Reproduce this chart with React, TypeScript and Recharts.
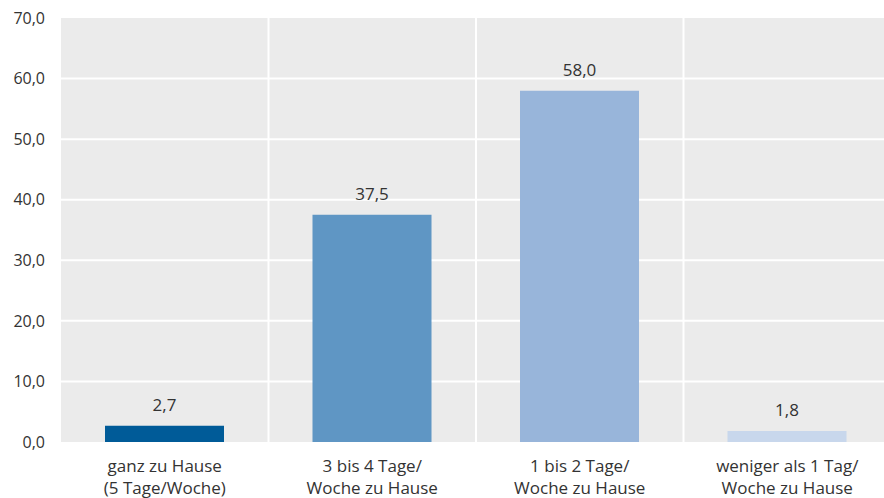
import { Bar, BarChart, CartesianGrid, Cell, LabelList, XAxis, YAxis } from "recharts";

const CATEGORIES = [
  "ganz zu Hause\n(5 Tage/Woche)",
  "3 bis 4 Tage/\nWoche zu Hause",
  "1 bis 2 Tage/\nWoche zu Hause",
  "weniger als 1 Tag/\nWoche zu Hause",
];
const VALUES = [2.7, 37.5, 58.0, 1.8];
const COLORS = ["#005b98", "#5f96c4", "#98b5da", "#c8d7ec"];
const Y_TICKS = [0, 10, 20, 30, 40, 50, 60, 70];

const FONT = "'Open Sans', 'Noto Sans', sans-serif";
const fmt = (v: number) => v.toFixed(1).replace(".", ",");

const data = CATEGORIES.map((name, i) => ({ name, value: VALUES[i] }));

function CategoryTick({ x, y, payload }: any) {
  const lines = String(payload.value).split("\n");
  return (
    <text x={x} y={y} textAnchor="middle" fill="#333" fontSize={17} fontFamily={FONT}>
      {lines.map((l, i) => (
        <tspan key={i} x={x} y={y + 22 + i * 22}>
          {l}
        </tspan>
      ))}
    </text>
  );
}

export default function App() {
  return (
    <div style={{ position: "absolute", left: 0, top: 0, width: 884, height: 498, overflow: "hidden" }}>
      <BarChart
        width={891}
        height={498}
        data={data}
        margin={{ top: 18, right: 0, bottom: 0, left: 0 }}
      >
        <CartesianGrid
          fill="#ebebeb"
          fillOpacity={1}
          stroke="#ffffff"
          strokeWidth={2}
          horizontalValues={[10, 20, 30, 40, 50, 60]}
          verticalCoordinatesGenerator={({ offset }: any) =>
            [1, 2, 3].map((i) => offset.left + (offset.width * i) / 4)
          }
        />
        <XAxis
          dataKey="name"
          height={56}
          axisLine={false}
          tickLine={false}
          interval={0}
          tick={<CategoryTick />}
        />
        <YAxis
          width={61}
          domain={[0, 70]}
          ticks={Y_TICKS}
          axisLine={false}
          tickLine={false}
          tickSize={0}
          tickMargin={16}
          tickFormatter={fmt}
          tick={{ fill: "#333", fontSize: 16, fontFamily: FONT }}
        />
        <Bar dataKey="value" barSize={119} isAnimationActive={false}>
          {data.map((_, i) => (
            <Cell key={i} fill={COLORS[i]} />
          ))}
          <LabelList
            dataKey="value"
            position="top"
            offset={15}
            formatter={(v: any) => fmt(Number(v))}
            fill="#333"
            fontSize={17}
            fontFamily={FONT}
          />
        </Bar>
      </BarChart>
    </div>
  );
}
